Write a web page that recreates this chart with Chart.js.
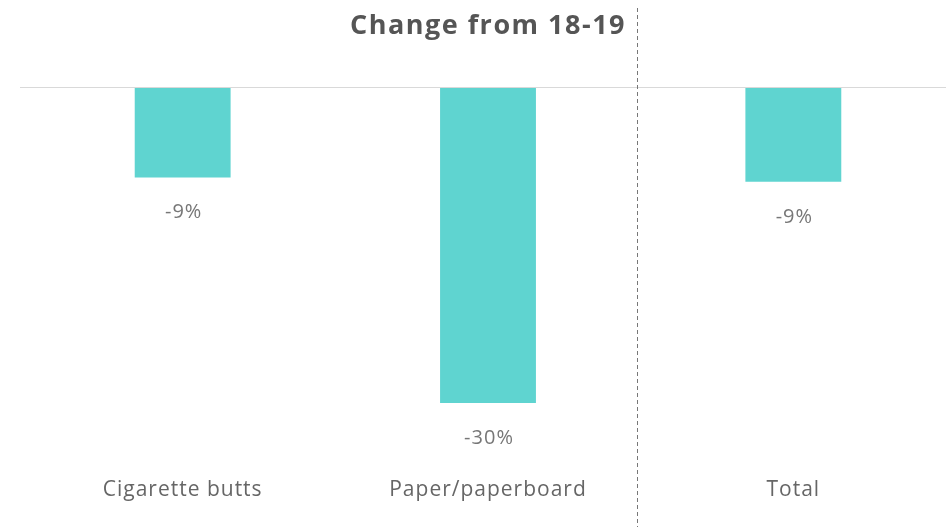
<!DOCTYPE html>
<html>
<head>
<meta charset="utf-8">
<script src="https://cdn.jsdelivr.net/npm/chart.js@4"></script>
<style>
  html, body { margin: 0; padding: 0; background: #fff; }
  #wrap { width: 946px; height: 527px; }
</style>
</head>
<body>
<div id="wrap"><canvas id="changeChart"></canvas></div>
<script>
var categories = ['Cigarette butts', 'Paper/paperboard', 'Total'];
var changeValues = [-8.6, -30, -9.0];
var valueLabels = ['-9%', '-30%', '-9%'];
var chartTitle = 'Change from 18-19';

// title, zero line, divider and the value labels under each bar
var decorPlugin = {
    id: 'decor',
    beforeDraw: function (chart) {
        // the original font is a wide DIN-ish face, spread letters a bit
        chart.ctx.letterSpacing = '1px';
    },
    afterDraw: function (chart) {
        var ctx = chart.ctx;
        var y = chart.scales.y;
        var zero = y.getPixelForValue(0);
        ctx.save();

        ctx.strokeStyle = '#d9d9d9';
        ctx.lineWidth = 1;
        ctx.beginPath();
        ctx.moveTo(20, zero + 0.5);
        ctx.lineTo(946, zero + 0.5);
        ctx.stroke();

        ctx.strokeStyle = '#777';
        ctx.setLineDash([4, 3]);
        ctx.beginPath();
        ctx.moveTo(637.5, 8);
        ctx.lineTo(637.5, 527);
        ctx.stroke();
        ctx.setLineDash([]);

        ctx.fillStyle = '#555';
        ctx.font = 'bold 27px "Open Sans"';
        ctx.letterSpacing = '1.5px';
        ctx.textAlign = 'center';
        ctx.textBaseline = 'middle';
        ctx.fillText(chartTitle, 488, 26);

        ctx.fillStyle = '#777';
        ctx.font = '20px "Open Sans"';
        ctx.letterSpacing = '1px';
        var bars = chart.getDatasetMeta(0).data;
        bars.forEach(function (bar, i) {
            ctx.fillText(valueLabels[i], bar.x + 1, bar.y + 35);
        });
        ctx.restore();
    }
};

var ctx = document.getElementById('changeChart');
var barGraph = new Chart(ctx, {
    type: 'bar',
    data: {
        labels: categories,
        datasets: [{
            label: chartTitle,
            data: changeValues,
            backgroundColor: '#5fd4d0',
            borderWidth: 0,
            barPercentage: 0.314,
            categoryPercentage: 1
        }]
    },
    options: {
        responsive: true,
        maintainAspectRatio: false,
        animation: false,
        layout: { padding: { top: 87, left: 30, right: 0, bottom: 25 } },
        plugins: {
            legend: { display: false },
            tooltip: { enabled: false },
            title: { display: false }
        },
        scales: {
            x: {
                grid: { display: false, drawTicks: false },
                border: { display: false },
                ticks: {
                    color: '#666',
                    padding: 74,
                    font: { family: 'Open Sans', size: 21 }
                },
                afterFit: function (scale) {
                    scale.height = 99;
                }
            },
            y: {
                display: false,
                min: -30,
                max: 0
            }
        }
    },
    plugins: [decorPlugin]
});
</script>
</body>
</html>
